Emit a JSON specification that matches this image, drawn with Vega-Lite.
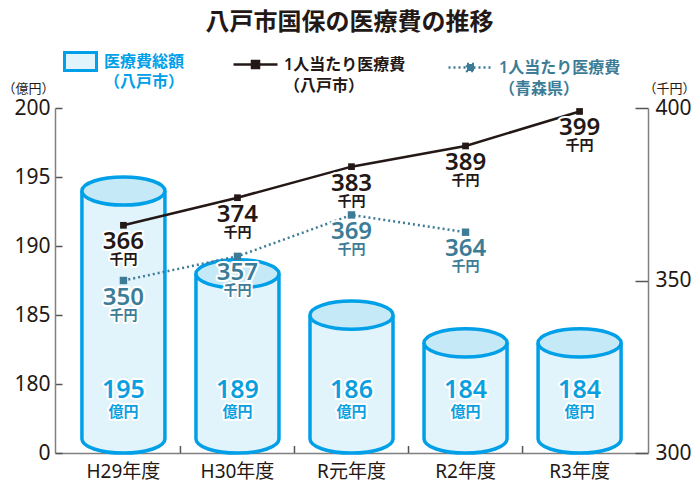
{
  "$schema": "https://vega.github.io/schema/vega-lite/v6.json",
  "width": 593,
  "height": 345,
  "autosize": "none",
  "padding": {"left": 55, "top": 108, "right": 48, "bottom": 34},
  "background": "white",
  "config": {
    "font": "Noto Sans, Noto Sans CJK JP, sans-serif",
    "view": {"stroke": null},
    "legend": {"labelFont": "Noto Sans, Noto Sans CJK JP, sans-serif"}
  },
  "title": {
    "text": "八戸市国保の医療費の推移",
    "fontSize": 24,
    "fontWeight": "bold",
    "color": "#231815",
    "anchor": "middle",
    "frame": "group",
    "offset": 6,
    "dx": -2
  },
  "data": {
    "values": [
      {"year": "H29年度", "total": 195, "hachinohe": 366, "aomori": 350},
      {"year": "H30年度", "total": 189, "hachinohe": 374, "aomori": 357},
      {"year": "R元年度", "total": 186, "hachinohe": 383, "aomori": 369},
      {"year": "R2年度", "total": 184, "hachinohe": 389, "aomori": 364},
      {"year": "R3年度", "total": 184, "hachinohe": 399, "aomori": null}
    ]
  },
  "layer": [
    {
      "layer": [
        {
          "mark": {"type": "bar", "width": 83, "yOffset": 14, "y2Offset": -14},
          "encoding": {
            "x": {
              "field": "year", "type": "nominal", "sort": null,
              "scale": {"paddingInner": 0, "paddingOuter": 0.1},
              "axis": {
                "title": null, "ticks": false, "labelAngle": 0, "labelFontSize": 19,
                "labelColor": "#231815", "labelPadding": 9, "domainColor": "#808080", "domainWidth": 1.5
              }
            },
            "y": {
              "field": "total", "type": "quantitative",
              "scale": {"domain": [175, 200], "zero": false, "nice": false},
              "axis": {
                "orient": "left",
                "values": [175, 180, 185, 190, 195, 200],
                "labelExpr": "datum.value == 175 ? '0' : datum.label",
                "title": "（億円）", "titleAngle": 0, "titleX": -53, "titleY": -20,
                "titleAlign": "left", "titleBaseline": "middle", "titleFontSize": 13,
                "titleFontWeight": "normal", "titleColor": "#231815",
                "labelFontSize": 21, "labelColor": "#231815", "labelPadding": 12,
                "tickSize": -7, "tickColor": "#555555", "tickWidth": 1.5,
                "domainColor": "#808080", "domainWidth": 1.5, "grid": false
              }
            },
            "y2": {"datum": 175},
            "fill": {
              "datum": "医療費総額（八戸市）", "type": "nominal",
              "scale": {"range": ["#e1f3fb"]},
              "legend": {
                "orient": "none", "legendX": 8, "legendY": -64, "title": null,
                "symbolType": "M-1,-0.56H1V0.56H-1Z", "symbolSize": 1024,
                "symbolStrokeColor": "#00a0e9", "symbolStrokeWidth": 3,
                "labelExpr": "['医療費総額', '（八戸市）']",
                "labelFontSize": 16, "labelFontWeight": 600, "labelColor": "#00a0e9",
                "labelOffset": 6,
                "encode": {"labels": {"update": {"lineHeight": {"value": 20}}}}
              }
            }
          }
        },
        {
          "mark": {
            "type": "point",
            "shape": "M-1,0C-1,0.19 -0.55,0.34 0,0.34C0.55,0.34 1,0.19 1,0",
            "size": 6889, "filled": true, "fill": "#e1f3fb", "stroke": "#00a0e9",
            "strokeWidth": 3.5, "opacity": 1, "yOffset": -14
          },
          "encoding": {
            "x": {"field": "year", "type": "nominal", "sort": null},
            "y": {"datum": 175}
          }
        },
        {
          "mark": {"type": "rule", "stroke": "#00a0e9", "strokeWidth": 3.5, "xOffset": -41.5, "yOffset": 14, "y2Offset": -14},
          "encoding": {
            "x": {"field": "year", "type": "nominal", "sort": null},
            "y": {"field": "total", "type": "quantitative"},
            "y2": {"datum": 175}
          }
        },
        {
          "mark": {"type": "rule", "stroke": "#00a0e9", "strokeWidth": 3.5, "xOffset": 41.5, "yOffset": 14, "y2Offset": -14},
          "encoding": {
            "x": {"field": "year", "type": "nominal", "sort": null},
            "y": {"field": "total", "type": "quantitative"},
            "y2": {"datum": 175}
          }
        },
        {
          "mark": {
            "type": "point",
            "shape": "M-1,0C-1,-0.19 -0.55,-0.34 0,-0.34C0.55,-0.34 1,-0.19 1,0C1,0.19 0.55,0.34 0,0.34C-0.55,0.34 -1,0.19 -1,0Z",
            "size": 6889, "filled": true, "fill": "#c6e9f8", "stroke": "#00a0e9",
            "strokeWidth": 3.5, "opacity": 1, "yOffset": 14
          },
          "encoding": {
            "x": {"field": "year", "type": "nominal", "sort": null},
            "y": {"field": "total", "type": "quantitative"}
          }
        },
        {
          "transform": [{"filter": "datum.year != 'H29年度'"}],
          "mark": {"type": "rule", "stroke": "#555555", "strokeWidth": 1.5, "y2Offset": -7},
          "encoding": {
            "x": {"field": "year", "type": "nominal", "sort": null, "bandPosition": 0},
            "y": {"datum": 175},
            "y2": {"datum": 175}
          }
        },
        {
          "mark": {"type": "text", "fontSize": 25, "fontWeight": 600, "stroke": "white", "strokeWidth": 4, "strokeJoin": "round", "fill": "white", "yOffset": 6, "baseline": "middle"},
          "encoding": {
            "x": {"field": "year", "type": "nominal", "sort": null},
            "y": {"datum": 180},
            "text": {"field": "total", "type": "quantitative"}
          }
        },
        {
          "mark": {"type": "text", "fontSize": 25, "fontWeight": 600, "fill": "#0aa0e0", "yOffset": 6, "baseline": "middle"},
          "encoding": {
            "x": {"field": "year", "type": "nominal", "sort": null},
            "y": {"datum": 180},
            "text": {"field": "total", "type": "quantitative"}
          }
        },
        {
          "mark": {"type": "text", "fontSize": 15, "fontWeight": "bold", "stroke": "white", "strokeWidth": 4, "strokeJoin": "round", "fill": "white", "yOffset": 28, "baseline": "middle", "text": "億円"},
          "encoding": {
            "x": {"field": "year", "type": "nominal", "sort": null},
            "y": {"datum": 180}
          }
        },
        {
          "mark": {"type": "text", "fontSize": 15, "fontWeight": "bold", "fill": "#0aa0e0", "yOffset": 28, "baseline": "middle", "text": "億円"},
          "encoding": {
            "x": {"field": "year", "type": "nominal", "sort": null},
            "y": {"datum": 180}
          }
        }
      ]
    },
    {
      "layer": [
        {
          "mark": {"type": "line", "strokeWidth": 2.5},
          "encoding": {
            "x": {"field": "year", "type": "nominal", "sort": null},
            "y": {
              "field": "hachinohe", "type": "quantitative",
              "scale": {"domain": [300, 400], "zero": false, "nice": false},
              "axis": {
                "orient": "right", "values": [300, 350, 400],
                "title": "（千円）", "titleAngle": 0, "titleX": -5, "titleY": -20,
                "titleAlign": "left", "titleBaseline": "middle", "titleFontSize": 13,
                "titleFontWeight": "normal", "titleColor": "#231815",
                "labelFontSize": 21, "labelColor": "#231815", "labelPadding": 20,
                "tickSize": -13, "tickColor": "#555555", "tickWidth": 1.5,
                "domainColor": "#808080", "domainWidth": 1.5, "grid": false
              }
            },
            "stroke": {
              "datum": "1人当たり医療費（八戸市）", "type": "nominal",
              "scale": {"range": ["#231815"]},
              "legend": {
                "orient": "none", "legendX": 177, "legendY": -67, "title": null,
                "symbolType": "M-1,0H1M-0.16,-0.16H0.16V0.16H-0.16Z", "symbolSize": 1936,
                "symbolStrokeWidth": 2.5, "symbolFillColor": "#231815",
                "labelExpr": "['1人当たり医療費', '（八戸市）']",
                "labelFontSize": 16, "labelFontWeight": 600, "labelColor": "#231815",
                "labelOffset": 5,
                "encode": {"labels": {"update": {"lineHeight": {"value": 21}}}}
              }
            }
          }
        },
        {
          "mark": {"type": "point", "shape": "square", "size": 45, "filled": true, "color": "#231815", "opacity": 1},
          "encoding": {
            "x": {"field": "year", "type": "nominal", "sort": null},
            "y": {"field": "hachinohe", "type": "quantitative"}
          }
        },
        {
          "mark": {"type": "line", "strokeWidth": 2.5, "stroke": "#3d7c96"},
          "encoding": {
            "x": {"field": "year", "type": "nominal", "sort": null},
            "y": {"field": "aomori", "type": "quantitative"},
            "strokeDash": {
              "datum": "1人当たり医療費（青森県）", "type": "nominal",
              "scale": {"range": [[2, 3]]},
              "legend": {
                "orient": "none", "legendX": 392, "legendY": -64, "title": null,
                "symbolType": "M-1,0H1M-0.16,-0.16H0.16V0.16H-0.16Z", "symbolSize": 1936,
                "symbolStrokeWidth": 2.5, "symbolStrokeColor": "#3d7c96", "symbolFillColor": "#3d7c96",
                "labelExpr": "['1人当たり医療費', '（青森県）']",
                "labelFontSize": 16, "labelFontWeight": 600, "labelColor": "#3d7c96",
                "labelOffset": 5,
                "encode": {"labels": {"update": {"lineHeight": {"value": 21}}}}
              }
            }
          }
        },
        {
          "mark": {"type": "point", "shape": "square", "size": 55, "filled": true, "color": "#3d7c96", "opacity": 1},
          "encoding": {
            "x": {"field": "year", "type": "nominal", "sort": null},
            "y": {"field": "aomori", "type": "quantitative"}
          }
        },
        {
          "mark": {"type": "text", "fontSize": 24, "fontWeight": 600, "stroke": "white", "strokeWidth": 4, "strokeJoin": "round", "fill": "white", "yOffset": 17, "baseline": "middle"},
          "encoding": {
            "x": {"field": "year", "type": "nominal", "sort": null},
            "y": {"field": "hachinohe", "type": "quantitative"},
            "text": {"field": "hachinohe", "type": "quantitative"}
          }
        },
        {
          "mark": {"type": "text", "fontSize": 24, "fontWeight": 600, "fill": "#231815", "yOffset": 17, "baseline": "middle"},
          "encoding": {
            "x": {"field": "year", "type": "nominal", "sort": null},
            "y": {"field": "hachinohe", "type": "quantitative"},
            "text": {"field": "hachinohe", "type": "quantitative"}
          }
        },
        {
          "mark": {"type": "text", "fontSize": 14, "fontWeight": "bold", "stroke": "white", "strokeWidth": 4, "strokeJoin": "round", "fill": "white", "yOffset": 35, "baseline": "middle", "text": "千円"},
          "encoding": {
            "x": {"field": "year", "type": "nominal", "sort": null},
            "y": {"field": "hachinohe", "type": "quantitative"}
          }
        },
        {
          "mark": {"type": "text", "fontSize": 14, "fontWeight": "bold", "fill": "#231815", "yOffset": 35, "baseline": "middle", "text": "千円"},
          "encoding": {
            "x": {"field": "year", "type": "nominal", "sort": null},
            "y": {"field": "hachinohe", "type": "quantitative"}
          }
        },
        {
          "mark": {"type": "text", "fontSize": 24, "fontWeight": 600, "stroke": "white", "strokeWidth": 4, "strokeJoin": "round", "fill": "white", "yOffset": 17, "baseline": "middle"},
          "encoding": {
            "x": {"field": "year", "type": "nominal", "sort": null},
            "y": {"field": "aomori", "type": "quantitative"},
            "text": {"field": "aomori", "type": "quantitative"}
          }
        },
        {
          "mark": {"type": "text", "fontSize": 24, "fontWeight": 600, "fill": "#3d7c96", "yOffset": 17, "baseline": "middle"},
          "encoding": {
            "x": {"field": "year", "type": "nominal", "sort": null},
            "y": {"field": "aomori", "type": "quantitative"},
            "text": {"field": "aomori", "type": "quantitative"}
          }
        },
        {
          "mark": {"type": "text", "fontSize": 14, "fontWeight": "bold", "stroke": "white", "strokeWidth": 4, "strokeJoin": "round", "fill": "white", "yOffset": 35, "baseline": "middle", "text": "千円"},
          "encoding": {
            "x": {"field": "year", "type": "nominal", "sort": null},
            "y": {"field": "aomori", "type": "quantitative"}
          }
        },
        {
          "mark": {"type": "text", "fontSize": 14, "fontWeight": "bold", "fill": "#3d7c96", "yOffset": 35, "baseline": "middle", "text": "千円"},
          "encoding": {
            "x": {"field": "year", "type": "nominal", "sort": null},
            "y": {"field": "aomori", "type": "quantitative"}
          }
        }
      ]
    }
  ],
  "resolve": {"scale": {"y": "independent"}}
}
